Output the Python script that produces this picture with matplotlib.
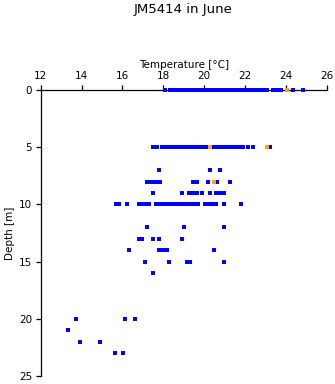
import matplotlib
matplotlib.use("Agg")
import matplotlib.pyplot as plt

plt.rcParams['font.family'] = ['DejaVu Sans']

title = "JM5414 in June"
xlabel = "Temperature [°C]"
ylabel = "Depth [m]"
x_ticks = [12, 14, 16, 18, 20, 22, 24, 26]
y_ticks = [0, 5, 10, 15, 20, 25]

# blue observations: temperature lists per depth (m)
temp_0m = [18.10, 18.31, 18.46, 18.55, 18.64, 18.73, 18.82, 18.91, 19.00, 19.09, 19.18,
           19.27, 19.34, 19.47, 19.56, 19.65, 19.74, 19.83, 19.92, 20.01, 20.10, 20.19,
           20.28, 20.37, 20.46, 20.55, 20.64, 20.73, 20.82, 20.94, 21.10, 21.23, 21.32,
           21.41, 21.50, 21.59, 21.68, 21.77, 21.86, 21.92, 22.00, 22.10, 22.20, 22.33,
           22.50, 22.70, 22.90, 23.09, 23.39, 23.57, 23.78, 24.37, 24.84]
temp_5m = [17.49, 17.69, 17.92, 18.01, 18.10, 18.19, 18.28, 18.37, 18.46, 18.55, 18.64,
           18.73, 18.82, 18.91, 19.00, 19.09, 19.18, 19.27, 19.36, 19.45, 19.54, 19.63,
           19.72, 19.81, 19.90, 19.99, 20.08, 20.20, 20.37, 20.47, 20.57, 20.66, 20.82,
           20.93, 21.05, 21.13, 21.24, 21.35, 21.43, 21.53, 21.62, 21.71, 21.81, 21.92,
           22.16, 22.38, 23.21]
temp_7m = [17.80, 20.30, 20.79]
temp_8m = [17.22, 17.37, 17.48, 17.59, 17.66, 17.82, 19.43, 19.55, 19.63, 20.20, 20.61, 21.28]
temp_9m = [17.51, 18.90, 19.25, 19.35, 19.45, 19.55, 19.65, 19.91, 20.30, 20.60, 20.76,
           20.86, 20.95]
temp_10m = [15.68, 15.85, 16.21, 16.80, 16.90, 17.00, 17.10, 17.18, 17.31, 17.66, 17.76,
            17.86, 17.96, 18.06, 18.16, 18.27, 18.40, 18.55, 18.70, 18.88, 18.98, 19.08,
            19.15, 19.28, 19.40, 19.57, 19.70, 20.06, 20.16, 20.26, 20.36, 20.60, 20.99,
            21.80]
temp_12m = [17.22, 19.01, 20.99]
temp_13m = [16.80, 16.95, 17.51, 17.80, 18.90]
temp_14m = [16.34, 17.77, 17.88, 17.97, 18.19, 20.50]
temp_15m = [17.12, 18.29, 19.17, 19.30, 20.99]
temp_16m = [17.51]
temp_20m = [13.73, 16.11, 16.63]
temp_21m = [13.33]
temp_22m = [13.93, 14.91]
temp_23m = [15.62, 16.02]

blue_profiles = {0: temp_0m, 5: temp_5m, 7: temp_7m, 8: temp_8m, 9: temp_9m,
                 10: temp_10m, 12: temp_12m, 13: temp_13m, 14: temp_14m,
                 15: temp_15m, 16: temp_16m, 20: temp_20m, 21: temp_21m,
                 22: temp_22m, 23: temp_23m}

# highlighted (orange) observations
orange_temp = [24.07, 20.30, 23.08, 20.50]
orange_depth = [0, 5, 5, 8]

fig = plt.figure(figsize=(3.35, 3.84), dpi=100)
ax = fig.add_axes([40.8 / 335, 1 - 376 / 384, (326.7 - 40.8) / 335, (376 - 90) / 384])

bx, by = [], []
for d, temps in blue_profiles.items():
    bx.extend(temps)
    by.extend([d] * len(temps))

ax.plot(bx, by, linestyle='none', marker='s', markersize=2.2, markeredgewidth=0,
        color='#0000ff', clip_on=False, zorder=5)
ax.plot(orange_temp, orange_depth, linestyle='none', marker='s', markersize=2.2,
        markeredgewidth=0, color='#ffa500', clip_on=False, zorder=6)

ax.set_xlim(12, 26)
ax.set_ylim(25, 0)
ax.xaxis.tick_top()
ax.xaxis.set_label_position('top')
ax.set_xticks(x_ticks)
ax.set_yticks(y_ticks)
ax.spines['right'].set_visible(False)
ax.spines['bottom'].set_visible(False)
for s in ('top', 'left'):
    ax.spines[s].set_linewidth(0.9)
ax.tick_params(axis='both', direction='out', length=3.8, width=0.9, labelsize=7.5, pad=2.5)
ax.set_xlabel(xlabel, fontsize=7.5, labelpad=2)
ax.set_ylabel(ylabel, fontsize=7.5, labelpad=3)

fig.text(183.5 / 335, 1 - 9 / 384, title, ha='center', va='center', fontsize=9.5)

fig.savefig("out.png", dpi=100)
